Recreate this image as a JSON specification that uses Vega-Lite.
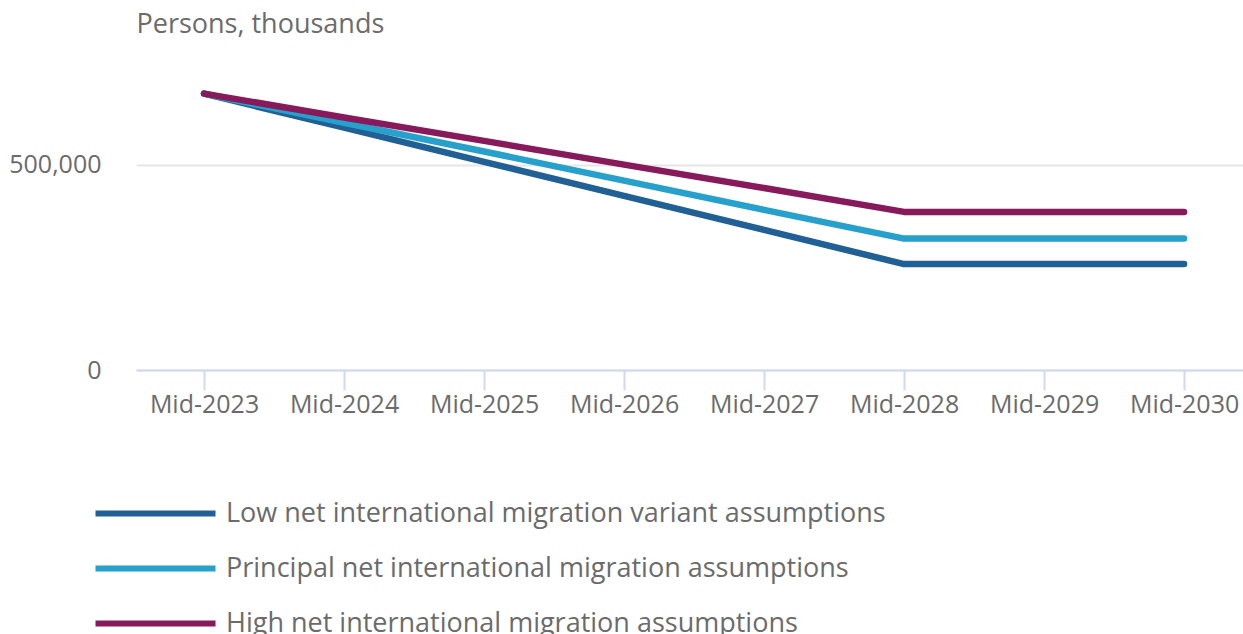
{
  "$schema": "https://vega.github.io/schema/vega-lite/v6.json",
  "autosize": {"type": "none"},
  "padding": {"left": 136, "top": 62, "right": 0, "bottom": 264},
  "width": 1107,
  "height": 308,
  "config": {
    "font": "Open Sans",
    "view": {"stroke": null}
  },
  "data": {
    "values": [
      {"year": 2023, "series": "Low net international migration variant assumptions", "value": 673000},
      {"year": 2024, "series": "Low net international migration variant assumptions", "value": 590000},
      {"year": 2025, "series": "Low net international migration variant assumptions", "value": 507000},
      {"year": 2026, "series": "Low net international migration variant assumptions", "value": 424000},
      {"year": 2027, "series": "Low net international migration variant assumptions", "value": 341000},
      {"year": 2028, "series": "Low net international migration variant assumptions", "value": 258000},
      {"year": 2029, "series": "Low net international migration variant assumptions", "value": 258000},
      {"year": 2030, "series": "Low net international migration variant assumptions", "value": 258000},
      {"year": 2023, "series": "Principal net international migration assumptions", "value": 673000},
      {"year": 2024, "series": "Principal net international migration assumptions", "value": 602000},
      {"year": 2025, "series": "Principal net international migration assumptions", "value": 532000},
      {"year": 2026, "series": "Principal net international migration assumptions", "value": 461000},
      {"year": 2027, "series": "Principal net international migration assumptions", "value": 390000},
      {"year": 2028, "series": "Principal net international migration assumptions", "value": 320000},
      {"year": 2029, "series": "Principal net international migration assumptions", "value": 320000},
      {"year": 2030, "series": "Principal net international migration assumptions", "value": 320000},
      {"year": 2023, "series": "High net international migration assumptions", "value": 673000},
      {"year": 2024, "series": "High net international migration assumptions", "value": 615000},
      {"year": 2025, "series": "High net international migration assumptions", "value": 558000},
      {"year": 2026, "series": "High net international migration assumptions", "value": 500000},
      {"year": 2027, "series": "High net international migration assumptions", "value": 443000},
      {"year": 2028, "series": "High net international migration assumptions", "value": 385000},
      {"year": 2029, "series": "High net international migration assumptions", "value": 385000},
      {"year": 2030, "series": "High net international migration assumptions", "value": 385000}
    ]
  },
  "mark": {"type": "line", "strokeWidth": 6.5, "strokeCap": "round", "strokeJoin": "round"},
  "encoding": {
    "x": {
      "field": "year",
      "type": "quantitative",
      "scale": {"domain": [2022.514, 2030.421], "nice": false, "zero": false},
      "axis": {
        "title": null,
        "values": [2023, 2024, 2025, 2026, 2027, 2028, 2029, 2030],
        "labelExpr": "'Mid-' + datum.value",
        "grid": false,
        "domainColor": "#d0d9ef",
        "domainWidth": 2,
        "tickColor": "#d0d9ef",
        "tickWidth": 2,
        "tickSize": 20,
        "labelFontSize": 25,
        "labelColor": "#6b6b6b",
        "labelPadding": 2,
        "labelFlush": false,
        "labelOverlap": false
      }
    },
    "y": {
      "field": "value",
      "type": "quantitative",
      "scale": {"domain": [0, 750000], "nice": false},
      "axis": {
        "title": "Persons, thousands",
        "titleAngle": 0,
        "titleAlign": "left",
        "titleAnchor": "end",
        "titleBaseline": "alphabetic",
        "titleX": 0,
        "titleY": -30,
        "titleFontSize": 27,
        "titleFontWeight": "normal",
        "titleColor": "#6b6b6b",
        "values": [0, 500000],
        "format": ",.0f",
        "domain": false,
        "ticks": false,
        "gridColor": "#e6e6e6",
        "gridWidth": 2,
        "labelFontSize": 25,
        "labelColor": "#6b6b6b",
        "labelPadding": 35,
        "labelFlush": false
      }
    },
    "color": {
      "field": "series",
      "type": "nominal",
      "sort": ["Low net international migration variant assumptions", "Principal net international migration assumptions", "High net international migration assumptions"],
      "scale": {
        "domain": ["Low net international migration variant assumptions", "Principal net international migration assumptions", "High net international migration assumptions"],
        "range": ["#206095", "#27a0cc", "#871a5b"]
      },
      "legend": {
        "title": null,
        "orient": "none",
        "legendX": 56,
        "legendY": 438,
        "direction": "vertical",
        "symbolType": "M-11,0H1",
        "symbolSize": 400,
        "symbolStrokeWidth": 6,
        "labelFontSize": 27,
        "labelColor": "#6b6b6b",
        "labelOffset": 7,
        "rowPadding": 27,
        "labelLimit": 1000
      }
    }
  }
}
